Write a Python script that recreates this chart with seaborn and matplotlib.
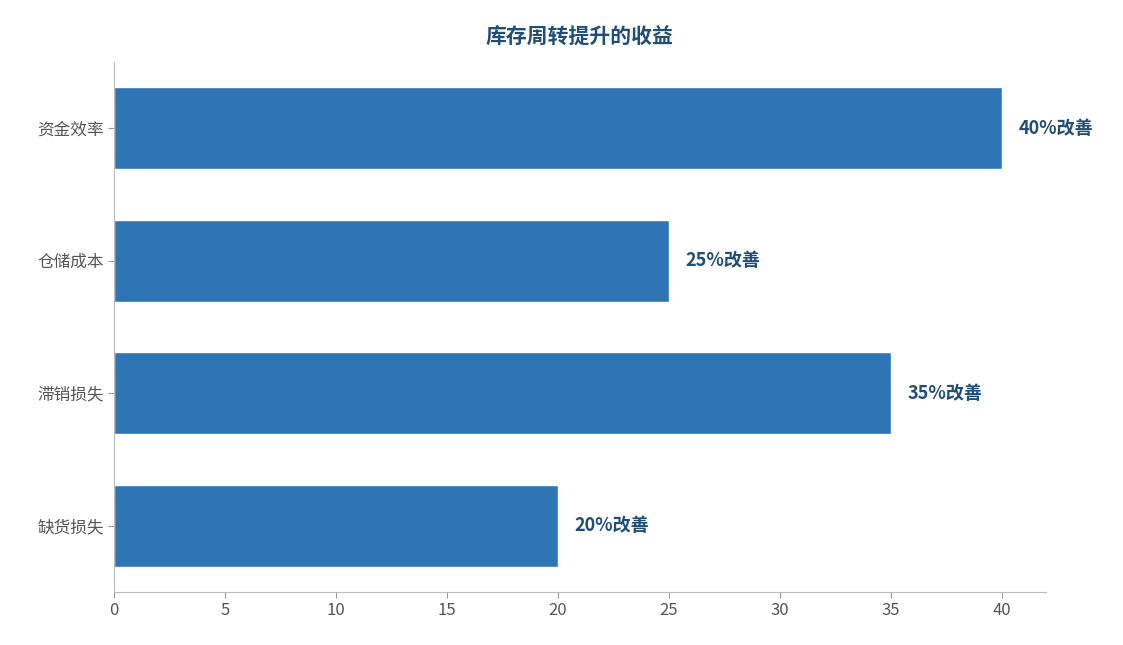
import matplotlib
matplotlib.use("Agg")
import matplotlib.pyplot as plt
import seaborn as sns
import pandas as pd

categories = ["资金效率", "仓储成本", "滞销损失", "缺货损失"]
values = [40, 25, 35, 20]
labels = ["40%改善", "25%改善", "35%改善", "20%改善"]

sns.set_style("white")
plt.rcParams['font.family'] = ['Noto Sans CJK SC', 'DejaVu Sans']

df = pd.DataFrame({"cat": categories, "val": values})

fig = plt.figure(figsize=(11.23, 6.45), dpi=100)
ax = fig.add_axes([114/1123, 1-592/645, (1046-114)/1123, (592-62)/645])
sns.barplot(data=df, x="val", y="cat", color="#2E75B6", saturation=1, width=0.62, ax=ax)

for i, (v, t) in enumerate(zip(values, labels)):
    ax.text(v + 0.75, i, t, va="center", ha="left", fontsize=13, fontweight="bold", color="#1F4E79")

ax.set_xlim(0, 42)
ax.set_xticks(range(0, 45, 5))
ax.set_xlabel("")
ax.set_ylabel("")
ax.set_title("库存周转提升的收益", fontsize=15, fontweight="bold", color="#1F4E79", pad=14)
ax.tick_params(axis="both", labelsize=12, colors="#555555", length=4, left=True, bottom=True)
ax.tick_params(axis="both", color="#999999")
for s in ["top", "right"]:
    ax.spines[s].set_visible(False)
for s in ["left", "bottom"]:
    ax.spines[s].set_color("#bbbbbb")

fig.savefig("out.png", dpi=100)
